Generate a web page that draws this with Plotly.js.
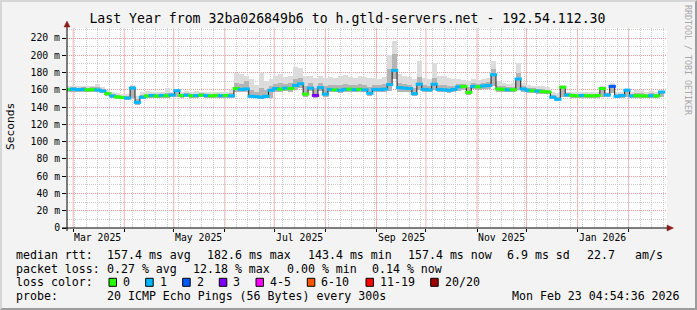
<!DOCTYPE html>
<html><head><meta charset="utf-8">
<script src="https://cdn.plot.ly/plotly-3.0.1.min.js"></script>
<style>
html,body{margin:0;padding:0;background:#f3f3f3;}
#wrap{position:relative;width:697px;height:310px;overflow:hidden;}
#chart{width:697px;height:310px;}
#frame{position:absolute;left:0;top:0;width:697px;height:310px;box-sizing:border-box;border-left:2px solid #d6d6d6;border-top:2px solid #d6d6d6;border-right:2px solid #9c9c9c;border-bottom:2px solid #9c9c9c;pointer-events:none;}
</style>
</head><body>
<div id="wrap"><div id="chart"></div><div id="frame"></div></div>
<script>
// ---------------- data ----------------
const dates = [
'2025-02-26','2025-03-01','2025-03-04','2025-03-07','2025-03-10','2025-03-13','2025-03-16','2025-03-19','2025-03-22','2025-03-25',
'2025-03-28','2025-03-31','2025-04-03','2025-04-06','2025-04-09','2025-04-12','2025-04-15','2025-04-18','2025-04-21','2025-04-24',
'2025-04-27','2025-04-30','2025-05-03','2025-05-06','2025-05-09','2025-05-12','2025-05-15','2025-05-18','2025-05-21','2025-05-24',
'2025-05-27','2025-05-30','2025-06-02','2025-06-05','2025-06-08','2025-06-11','2025-06-14','2025-06-17','2025-06-20','2025-06-23',
'2025-06-26','2025-06-29','2025-07-02','2025-07-05','2025-07-08','2025-07-11','2025-07-14','2025-07-17','2025-07-20','2025-07-23',
'2025-07-26','2025-07-29','2025-08-01','2025-08-04','2025-08-07','2025-08-10','2025-08-13','2025-08-16','2025-08-19','2025-08-22',
'2025-08-25','2025-08-28','2025-08-31','2025-09-03','2025-09-06','2025-09-09','2025-09-12','2025-09-15','2025-09-18','2025-09-21',
'2025-09-24','2025-09-27','2025-09-30','2025-10-03','2025-10-06','2025-10-09','2025-10-12','2025-10-15','2025-10-18','2025-10-21',
'2025-10-24','2025-10-27','2025-10-30','2025-11-02','2025-11-05','2025-11-08','2025-11-11','2025-11-14','2025-11-17','2025-11-20',
'2025-11-23','2025-11-26','2025-11-29','2025-12-02','2025-12-05','2025-12-08','2025-12-11','2025-12-14','2025-12-17','2025-12-20',
'2025-12-23','2025-12-26','2025-12-29','2026-01-01','2026-01-04','2026-01-07','2026-01-10','2026-01-13','2026-01-16','2026-01-19',
'2026-01-22','2026-01-25','2026-01-28','2026-01-31','2026-02-03','2026-02-06','2026-02-09','2026-02-12','2026-02-15','2026-02-18',
'2026-02-21'];

// median rtt (ms)
const medianMs = [
160.5,160.8,160.2,160.5,160.0,160.3,159.8,158.5,155.5,152.8,
151.8,151.0,150.5,162.0,145.5,151.5,153.0,153.5,152.8,153.6,
153.2,154.0,159.0,153.5,153.8,153.2,153.5,153.8,153.4,153.0,
153.6,153.2,153.5,153.0,161.5,160.5,161.0,152.5,152.0,151.5,
152.5,159.5,161.5,160.8,162.0,161.5,165.0,167.0,155.0,162.0,
153.5,162.5,155.0,160.5,160.0,159.5,160.5,160.8,160.2,160.6,
160.0,156.0,160.5,160.2,160.8,166.0,182.5,162.5,162.0,161.5,
155.5,166.5,160.5,160.0,166.5,160.5,160.0,159.5,160.5,163.5,
164.0,157.0,164.0,163.5,164.5,165.0,177.5,161.0,160.5,160.0,
160.2,172.5,161.0,159.5,159.0,158.5,158.0,157.5,151.5,149.0,
163.0,154.0,153.5,153.0,153.5,153.2,153.0,153.4,161.5,154.0,
164.0,152.5,153.5,159.5,153.0,153.2,153.0,152.8,153.2,153.0,
157.4];

// loss bucket index (0 = "0", 1 = "1", 2 = "2", 3 = "3", ...)
const lossBucket = [
0,1,1,1,0,0,1,1,0,1,
0,0,1,1,1,1,0,1,0,1,
0,1,1,0,1,0,1,0,1,0,
0,1,0,1,0,1,1,1,1,1,
1,1,1,0,1,0,1,1,0,1,
3,1,1,1,0,1,1,0,1,0,
1,1,1,1,1,1,1,1,1,1,
1,1,1,1,1,1,1,1,1,1,
0,0,1,0,1,1,1,0,0,1,
0,1,1,1,0,1,0,0,1,1,
0,1,0,0,1,0,0,0,0,1,
2,1,1,1,1,0,0,0,1,0,
1];

// smoke: highest ping, upper dense ping, lowest ping (ms)
const smokeMax = [
164,165,164,165,164,165,167,163,160,157,
156,155,155,166,153,158,159,158,157,158,
162,158,161,158,159,158,159,158,157,158,
158,157,158,160,180,178,176,172,166,180,
170,172,176,178,175,176,186,185,176,176,
174,176,174,175,174,176,177,175,174,176,
175,174,174,173,175,200,216,178,176,175,
172,193,174,173,191,176,176,174,172,172,
171,170,172,171,172,174,193,170,168,167,
168,191,168,166,165,165,164,163,158,156,
166,158,157,157,158,157,157,158,164,158,
168,157,158,162,158,160,160,158,159,157,
160];
const smokeUpper = [
162.5,163,162.5,163,162,163,163,161,158,155,
154,153,153,164,149,154,155,155.5,155,155.5,
156,156,160,155.5,156,155,155.5,156,155.5,155,
155.5,155,155.5,156,168,167,170,160,158,162,
160,165,167,168,167,168,172,174,165,168,
162,168,165,166,166,166,167,166,166,167,
166,163,166,166,167,184,202,168,167,166,
162,175,166,165,174,166,166,165,165,167,
167,163,168,167,168,169,184,165,164,163,
163.5,180,164,162.5,162,161.5,161,160,154.5,152,
164.5,156,155.5,155,155.5,155,155,155.5,163,156,
166,155,155.5,161,155,156,156,155,156,155,
159];
const smokeMin = [
158,158,158,158,157.5,158,157.5,156,153,150.5,
149.5,149,148.5,150,143,149,151,151,150.5,151,
151,151.5,152,151,151.5,151,151,151.5,151,151,
151,151,151,151,158,157.5,158,150,150,149.5,
150,151,158,157.5,158.5,158,160,162,152,158.5,
151,158.5,152,157,157,156.5,157,157.5,157,157,
157,153,157,157,157.5,159,172,158,158,158,
152.5,160,157,157,160,157,157,156.5,157,159,
160,154,160.5,160,161,161,165,158,157.5,157,
157,160,158,156.5,156,155.5,155,155,149,147,
152,151.5,151,151,151,151,151,151,152,151.5,
156,150,151,152,151,151,151,150.5,151,151,
152];

const lossLabels = ['0','1','2','3','4-5','6-10','11-19','20/20'];
const lossColors = ['#26ff00','#00b8ff','#0059ff','#7e00ff','#ff00ff','#ff5500','#ff0000','#a10000'];

const yTickVals = [0,20,40,60,80,100,120,140,160,180,200,220];
const yTickText = ['0','20 m','40 m','60 m','80 m','100 m','120 m','140 m','160 m','180 m','200 m','220 m'];
const xTickDates = ['2025-03-16','2025-05-16','2025-07-16','2025-09-16','2025-11-16','2026-01-16'];
const xTickText = ['Mar 2025','May 2025','Jul 2025','Sep 2025','Nov 2025','Jan 2026'];
const monthStarts = ['2025-03-01','2025-04-01','2025-05-01','2025-06-01','2025-07-01','2025-08-01',
  '2025-09-01','2025-10-01','2025-11-01','2025-12-01','2026-01-01','2026-02-01'];

const titleText = 'Last Year from 32ba026849b6 to h.gtld-servers.net - 192.54.112.30';
const medianLabel = 'median rtt:';
const medianStats = ['157.4 ms avg','182.6 ms max','143.4 ms min','157.4 ms now','6.9 ms sd','22.7','am/s'];
const lossLabel = 'packet loss:';
const lossStats = ['0.27 % avg','12.18 % max','0.00 % min','0.14 % now'];
const lossColorLabel = 'loss color:';
const probeLabel = 'probe:';
const probeText = '20 ICMP Echo Pings (56 Bytes) every 300s';
const stampText = 'Mon Feb 23 04:54:36 2026';
const watermark = 'RRDTOOL / TOBI OETIKER';

// ---------------- layout helpers ----------------
const PL = 67, PR = 667, PT = 28, PB = 228;
const X = px => (px - PL) / (PR - PL);
const Y = py => (PB - py) / (PB - PT);
const MONO = 'DejaVu Sans Mono, monospace';
const DAY = 86400000;
const xRange = ['2025-02-25 06:00', '2026-02-24 06:00'];
const GRID = '#cdcdcd', MGRID = '#f09a9a', MGRID_SOLID = '#f3b3b3', DOTS = '1px,1px';

const traces = [
  { type:'bar', x:dates, base:smokeMin, y:smokeMax.map((v,i)=>v-smokeMin[i]), width:3*DAY,
    marker:{color:'#dcdcdc', line:{width:0}}, hoverinfo:'skip' },
  { type:'bar', x:dates, base:smokeMin, y:smokeUpper.map((v,i)=>v-smokeMin[i]), width:3*DAY,
    marker:{color:'#b4b4b4', line:{width:0}}, hoverinfo:'skip' },
  { type:'scatter', mode:'lines', x:dates, y:medianMs,
    line:{color:'#202020', width:1, shape:'hvh'}, hoverinfo:'skip' },
  { type:'scatter', mode:'markers', x:dates, y:medianMs,
    marker:{symbol:'line-ew', size:5.2, line:{width:3, color:lossBucket.map(b=>lossColors[b])}}, hoverinfo:'skip' }
];

const ann = [];
function txt(text, px, py, opts) {
  ann.push(Object.assign({ text, x:X(px), y:Y(py), xref:'paper', yref:'paper', showarrow:false,
    xanchor:'left', yanchor:'middle', borderpad:0, borderwidth:0,
    font:{family:MONO, size:11.6, color:'#000'} }, opts || {}));
}
// month labels placed through the x axis scale
xTickDates.forEach((d,i)=>{
  ann.push({text:xTickText[i], x:d, xref:'x', y:Y(237.7), yref:'paper', showarrow:false,
    xanchor:'center', yanchor:'middle', borderpad:0, borderwidth:0,
    font:{family:MONO, size:9.8, color:'#000'}});
});
// legend rows
const R1 = 255, R2 = 268.5, R3 = 282.3, R4 = 296;
txt(medianLabel, 16, R1);
[107.3, 207.3, 307.5, 408.3, 507.3, 586.7, 635].forEach((px,i)=>txt(medianStats[i], px, R1));
txt(lossLabel, 16, R2);
[107.3, 193, 286.7, 372.3].forEach((px,i)=>txt(lossStats[i], px, R2));
txt(lossColorLabel, 16, R3);
const boxX = [109, 145.7, 182.7, 219.3, 256, 307.3, 366, 430.7];
const shapes = [];
// monthly major grid lines, positioned through the x axis scale
monthStarts.forEach(d=>{
  shapes.push({type:'line', layer:'between', xref:'x', yref:'paper', x0:d, x1:d, y0:0, y1:1,
    line:{color:MGRID_SOLID, width:1}});
});
boxX.forEach((px,i)=>{
  txt(lossLabels[i], px + 14, R3);
  shapes.push({type:'rect', xref:'paper', yref:'paper', x0:X(px), x1:X(px+7.5), y0:Y(R3+4), y1:Y(R3-4),
    fillcolor:lossColors[i], line:{color:'#000', width:1}});
});
txt(probeLabel, 16, R4);
txt(probeText, 107.3, R4);
txt(stampText, 680, R4, {xanchor:'right'});
// axis title and watermark
txt('Seconds', 10, 127, {xanchor:'center', textangle:-90, font:{family:MONO, size:11.2, color:'#000'}});
txt(watermark, 688, 60, {xanchor:'center', textangle:90, font:{family:MONO, size:8.3, color:'#a8a8a8'}});

// axis extensions and arrows
shapes.push({type:'line', xref:'paper', yref:'paper', x0:X(62), x1:X(669), y0:0, y1:0, line:{color:'#000', width:1}});
shapes.push({type:'line', xref:'paper', yref:'paper', x0:0, x1:0, y0:Y(231), y1:Y(25), line:{color:'#000', width:1}});
shapes.push({type:'path', xref:'paper', yref:'paper', fillcolor:'#8c1c1c', line:{color:'#8c1c1c', width:0.5},
  path:`M ${X(667)} ${Y(225)} L ${X(673.5)} ${Y(228)} L ${X(667)} ${Y(231)} Z`});
shapes.push({type:'path', xref:'paper', yref:'paper', fillcolor:'#8c1c1c', line:{color:'#8c1c1c', width:0.5},
  path:`M ${X(64)} ${Y(27)} L ${X(67)} ${Y(21)} L ${X(70)} ${Y(27)} Z`});

const layout = {
  width:697, height:310, autosize:false,
  margin:{l:PL, r:697-PR, t:PT, b:310-PB, pad:0},
  paper_bgcolor:'#f3f3f3', plot_bgcolor:'#ffffff',
  showlegend:false, barmode:'overlay', bargap:0,
  title:{text:titleText, font:{family:MONO, size:13.2, color:'#000'},
    x:0.4985, xref:'container', xanchor:'center', y:1-18.3/310, yref:'container', yanchor:'middle'},
  xaxis:{type:'date', range:xRange, tickmode:'array', tickvals:monthStarts,
    showgrid:false, showticklabels:false, ticks:'outside', ticklen:3, tickcolor:'#000',
    minor:{tickmode:'linear', tick0:'2025-03-09', dtick:7*DAY, showgrid:true, gridcolor:GRID, griddash:DOTS, gridwidth:1, ticks:''},
    zeroline:false, showline:false, fixedrange:true},
  yaxis:{range:[0,231.6], tickmode:'array', tickvals:yTickVals, ticktext:yTickText,
    tickfont:{family:MONO, size:9.8, color:'#000'},
    showgrid:true, gridcolor:MGRID, griddash:DOTS, gridwidth:1,
    minor:{tickmode:'linear', tick0:0, dtick:10, showgrid:true, gridcolor:GRID, griddash:DOTS, gridwidth:1},
    ticks:'outside', ticklen:4, tickcolor:'#000', zeroline:false, showline:false, fixedrange:true},
  annotations:ann, shapes:shapes
};

Plotly.newPlot('chart', traces, layout, {displayModeBar:false, staticPlot:true});
</script>
</body></html>
